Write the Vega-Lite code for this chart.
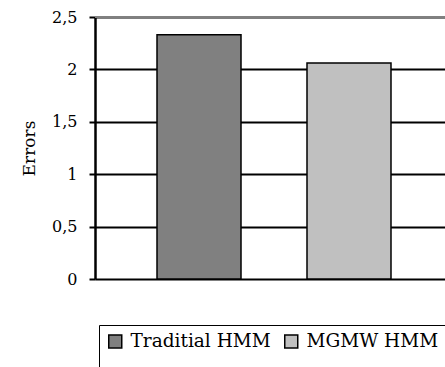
{
  "$schema": "https://vega.github.io/schema/vega-lite/v6.json",
  "width": 350,
  "height": 262,
  "autosize": {"type": "none"},
  "padding": {"left": 95, "top": 17, "right": 0, "bottom": 88},
  "background": "white",
  "config": {
    "font": "DejaVu Serif",
    "view": {"stroke": null}
  },
  "data": {
    "values": [
      {"method": "Traditial HMM", "errors": 2.33},
      {"method": "MGMW HMM", "errors": 2.06}
    ]
  },
  "layer": [
    {
      "mark": {"type": "bar", "stroke": "black", "strokeWidth": 1.5},
      "encoding": {
        "x": {
          "field": "method",
          "type": "nominal",
          "sort": null,
          "axis": null,
          "scale": {"paddingInner": 0.44, "paddingOuter": 0.3867, "align": 0.5345}
        },
        "y": {
          "field": "errors",
          "type": "quantitative",
          "scale": {"domain": [0, 2.5], "nice": false},
          "axis": {
            "values": [0, 0.5, 1, 1.5, 2, 2.5],
            "labelExpr": "replace(format(datum.value, '.1~f'), '.', ',')",
            "title": "Errors",
            "titleFontSize": 17,
            "titleFontWeight": "normal",
            "titleColor": "black",
            "titlePadding": 13,
            "labelFontSize": 16,
            "labelColor": "black",
            "labelPadding": 12,
            "domain": true,
            "domainColor": "#000000",
            "domainWidth": 2.5,
            "ticks": true,
            "tickColor": "#000000",
            "tickWidth": 2,
            "tickSize": 6,
            "grid": true,
            "gridWidth": 2,
            "gridColor": "black"
          }
        },
        "color": {
          "field": "method",
          "type": "nominal",
          "sort": null,
          "scale": {
            "domain": ["Traditial HMM", "MGMW HMM"],
            "range": ["#808080", "#C0C0C0"]
          },
          "legend": {
            "orient": "none",
            "legendX": 4,
            "legendY": 308,
            "direction": "horizontal",
            "columns": 2,
            "title": "\u00a0\u00a0\u00a0\u00a0\u00a0\u00a0\u00a0\u00a0\u00a0\u00a0\u00a0\u00a0\u00a0\u00a0\u00a0\u00a0\u00a0\u00a0\u00a0\u00a0\u00a0\u00a0\u00a0\u00a0\u00a0\u00a0\u00a0\u00a0\u00a0\u00a0\u00a0\u00a0\u00a0\u00a0\u00a0\u00a0\u00a0\u00a0\u00a0\u00a0\u00a0\u00a0\u00a0\u00a0\u00a0\u00a0\u00a0\u00a0\u00a0\u00a0\u00a0\u00a0\u00a0\u00a0\u00a0\u00a0\u00a0\u00a0\u00a0\u00a0\u00a0\u00a0\u00a0\u00a0",
            "titleOrient": "bottom",
            "titleFontSize": 18,
            "titleLimit": 1000,
            "titlePadding": 0,
            "padding": 7,
            "strokeColor": "black",
            "fillColor": "white",
            "symbolType": "square",
            "symbolSize": 169,
            "symbolStrokeColor": "black",
            "symbolStrokeWidth": 1.5,
            "symbolOpacity": 1,
            "labelFontSize": 18.5,
            "labelColor": "black",
            "labelOffset": 6,
            "columnPadding": 10,
            "labelLimit": 300
          }
        }
      }
    },
    {
      "mark": {"type": "rule", "color": "#808080", "strokeWidth": 2},
      "encoding": {
        "y": {"datum": 2.5, "type": "quantitative"}
      }
    }
  ]
}
